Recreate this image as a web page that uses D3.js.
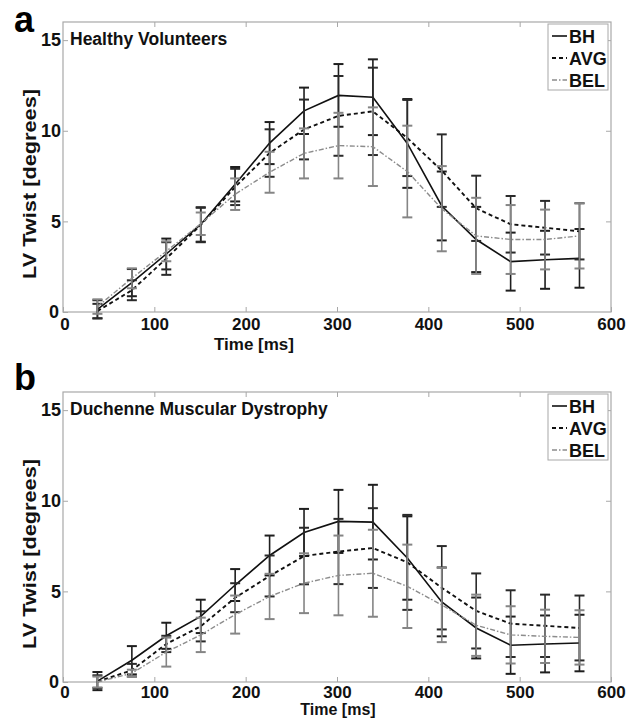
<!DOCTYPE html>
<html>
<head>
<meta charset="utf-8">
<script src="https://cdn.jsdelivr.net/npm/d3@7"></script>
<style>
  html, body { margin: 0; padding: 0; background: #fff; }
  svg { display: block; font-family: "Liberation Sans", Arial, Helvetica, sans-serif; }
</style>
</head>
<body>
<svg id="chart" width="636" height="719"></svg>
<script>
// ---------- data ----------
const times = [37.7, 75.4, 113.1, 150.8, 188.5, 226.2, 263.9, 301.6, 339.3, 377.0, 414.7, 452.4, 490.1, 527.8, 565.5];

// Panel a: Healthy Volunteers
const bhA     = [0.15, 1.62, 3.2, 4.83, 7.05, 9.32, 11.1, 11.95, 11.85, 9.3, 5.85, 4.0, 2.78, 2.88, 2.96];
const bhAErr  = [0.5, 0.75, 0.85, 0.95, 0.95, 1.16, 1.28, 1.73, 2.09, 2.45, 1.9, 1.8, 1.6, 1.6, 1.62];
const avgA    = [0.05, 1.2, 2.95, 4.8, 6.9, 8.77, 10.07, 10.82, 11.07, 9.6, 7.8, 5.72, 4.84, 4.65, 4.45];
const avgAErr = [0.4, 0.55, 0.9, 0.95, 1.0, 1.31, 1.65, 2.2, 2.41, 2.1, 2.0, 1.8, 1.56, 1.48, 1.55];
const belA    = [0.3, 1.86, 3.35, 4.87, 6.5, 7.71, 8.75, 9.18, 9.12, 7.75, 5.7, 4.2, 4.0, 4.0, 4.2];
const belAErr = [0.4, 0.55, 0.55, 0.62, 0.87, 1.13, 1.38, 1.81, 2.17, 2.53, 2.35, 2.1, 1.9, 1.65, 1.8];

// Panel b: Duchenne Muscular Dystrophy
const bhB     = [0.05, 1.2, 2.55, 3.62, 5.35, 6.98, 8.25, 8.86, 8.82, 6.84, 4.42, 2.98, 2.03, 2.1, 2.15];
const bhBErr  = [0.5, 0.78, 0.72, 0.92, 0.88, 1.1, 1.3, 1.74, 2.06, 2.3, 1.9, 1.68, 1.58, 1.57, 1.56];
const avgB    = [0.02, 0.65, 2.1, 3.07, 4.65, 5.85, 6.95, 7.2, 7.39, 6.6, 5.2, 3.92, 3.22, 3.1, 2.98];
const avgBErr = [0.35, 0.35, 0.45, 0.83, 0.8, 1.13, 1.56, 1.8, 2.2, 2.62, 2.3, 2.07, 1.84, 1.72, 1.79];
const belB    = [0.0, 0.48, 1.65, 2.6, 3.72, 4.72, 5.45, 5.88, 6.0, 5.28, 4.25, 3.13, 2.6, 2.52, 2.46];
const belBErr = [0.3, 0.2, 0.8, 0.95, 1.05, 1.25, 1.65, 2.2, 2.4, 2.3, 2.05, 1.69, 1.58, 1.47, 1.5];

const xTicks = [0, 100, 200, 300, 400, 500, 600];
const yTicks = [0, 5, 10, 15];
const seriesNames = ["BH", "AVG", "BEL"];
const panelLetters = ["a", "b"];
const panelTitles = ["Healthy Volunteers", "Duchenne Muscular Dystrophy"];
const xLabel = "Time [ms]";
const yLabel = "LV Twist [degrees]";

// ---------- styles ----------
const styles = {
  BH:  { line: "#111", bar: "#1e1e1e", dash: null, width: 1.6 },
  AVG: { line: "#111", bar: "#2a2a2a", dash: "4,3", width: 1.9 },
  BEL: { line: "#8c8c8c", bar: "#858585", dash: "5,2,1.5,2", width: 1.4 }
};

const svg = d3.select("#chart");
const left = 63, right = 611, plotH = 290;

const panels = [
  { top: 22,  letter: panelLetters[0], letterY: 32, title: panelTitles[0], tickPad: 6,
    series: [[bhA, bhAErr], [avgA, avgAErr], [belA, belAErr]], xLabelX: 254, xLabelY: 350, xLabelSize: 17 },
  { top: 392, letter: panelLetters[1], letterY: 390, title: panelTitles[1], tickPad: 4,
    series: [[bhB, bhBErr], [avgB, avgBErr], [belB, belBErr]], xLabelX: 338, xLabelY: 715.3, xLabelSize: 16 }
];

const x = d3.scaleLinear().domain([0, 600]).range([left, right]);

panels.forEach(p => {
  const bottom = p.top + plotH;
  const y = d3.scaleLinear().domain([0, 16]).range([bottom, p.top]);
  const g = svg.append("g");

  // frame
  g.append("rect").attr("x", left).attr("y", p.top).attr("width", right - left).attr("height", plotH)
    .attr("fill", "#fff").attr("stroke", "#a8a8a8").attr("stroke-width", 1.2);

  // axes
  const styleAxis = sel => {
    sel.select(".domain").remove();
    sel.selectAll(".tick line").attr("stroke", "#a8a8a8").attr("stroke-width", 1);
    sel.selectAll(".tick text").attr("fill", "#111").attr("font-size", 17).attr("font-weight", "bold")
      .attr("font-family", "'Liberation Sans', Arial, sans-serif");
  };
  const xAx = g.append("g").attr("transform", `translate(0,${bottom})`)
    .call(d3.axisBottom(x).tickValues(xTicks).tickSizeInner(-5).tickSizeOuter(0).tickPadding(p.tickPad).tickFormat(d3.format("d")))
    .call(styleAxis);
  xAx.selectAll(".tick text").filter(d => d === 0).attr("dx", 1.5);
  g.append("g").attr("transform", `translate(0,${p.top})`)
    .call(d3.axisTop(x).tickValues(xTicks.slice(1, -1)).tickSizeInner(-5).tickSizeOuter(0).tickFormat(""))
    .call(styleAxis);
  const yAx = g.append("g").attr("transform", `translate(${left},0)`)
    .call(d3.axisLeft(y).tickValues(yTicks).tickSizeInner(-5).tickSizeOuter(0).tickPadding(2).tickFormat(d3.format("d")))
    .call(styleAxis);
  yAx.selectAll(".tick text").attr("font-size", 18);
  yAx.selectAll(".tick text").filter(d => d === 0).attr("dx", -2);
  g.append("g").attr("transform", `translate(${right},0)`)
    .call(d3.axisRight(y).tickValues(yTicks.slice(1)).tickSizeInner(-5).tickSizeOuter(0).tickFormat(""))
    .call(styleAxis);

  // series: error bars then line, in order BH, AVG, BEL
  seriesNames.forEach((name, si) => {
    const [vals, errs] = p.series[si];
    const st = styles[name];
    const data = times.map((t, i) => ({ t, v: vals[i], e: errs[i] }));
    const eb = g.append("g").attr("stroke", st.bar).attr("stroke-width", 1.6).attr("fill", "none");
    eb.selectAll("line.v").data(data).join("line").attr("class", "v")
      .attr("x1", d => x(d.t)).attr("x2", d => x(d.t))
      .attr("y1", d => y(d.v - d.e)).attr("y2", d => y(d.v + d.e));
    eb.selectAll("line.ct").data(data).join("line").attr("class", "ct")
      .attr("x1", d => x(d.t) - 5).attr("x2", d => x(d.t) + 5)
      .attr("y1", d => y(d.v + d.e)).attr("y2", d => y(d.v + d.e)).attr("stroke-width", 2);
    eb.selectAll("line.cb").data(data).join("line").attr("class", "cb")
      .attr("x1", d => x(d.t) - 5).attr("x2", d => x(d.t) + 5)
      .attr("y1", d => y(d.v - d.e)).attr("y2", d => y(d.v - d.e)).attr("stroke-width", 2);
    const line = d3.line().x(d => x(d.t)).y(d => y(d.v)).curve(d3.curveLinear);
    g.append("path").datum(data).attr("d", line).attr("fill", "none")
      .attr("stroke", st.line).attr("stroke-width", st.width)
      .attr("stroke-dasharray", st.dash);
  });

  // title
  g.append("text").attr("x", 70).attr("y", p.top + 23).text(p.title)
    .attr("font-size", 17.5).attr("font-weight", "bold").attr("fill", "#111");

  // legend
  const lg = g.append("g");
  lg.append("rect").attr("x", 548).attr("y", p.top + 2).attr("width", 60).attr("height", 66)
    .attr("fill", "#fff").attr("stroke", "#a8a8a8").attr("stroke-width", 1);
  seriesNames.forEach((name, i) => {
    const st = styles[name];
    const cy = p.top + 14 + i * 22;
    lg.append("line").attr("x1", 552).attr("x2", 567).attr("y1", cy).attr("y2", cy)
      .attr("stroke", st.line).attr("stroke-width", st.width).attr("stroke-dasharray", st.dash);
    lg.append("text").attr("x", 569).attr("y", cy + 6.5).text(name)
      .attr("font-size", 18).attr("font-weight", "bold").attr("fill", "#111");
  });

  // axis labels
  g.append("text").attr("x", p.xLabelX).attr("y", p.xLabelY).attr("text-anchor", "middle")
    .text(xLabel).attr("font-size", p.xLabelSize).attr("font-weight", "bold").attr("fill", "#111");
  const ly = p.top + 162;
  g.append("text").attr("transform", `translate(36,${ly}) rotate(-90)`).attr("text-anchor", "middle")
    .text(yLabel).attr("font-size", 18.5).attr("font-weight", "bold").attr("fill", "#111")
    .attr("textLength", 190).attr("lengthAdjust", "spacingAndGlyphs");

  // panel letter
  g.append("text").attr("x", 14).attr("y", p.letterY).text(p.letter)
    .attr("font-size", 36).attr("font-weight", "bold").attr("fill", "#000");
});
</script>
</body>
</html>
